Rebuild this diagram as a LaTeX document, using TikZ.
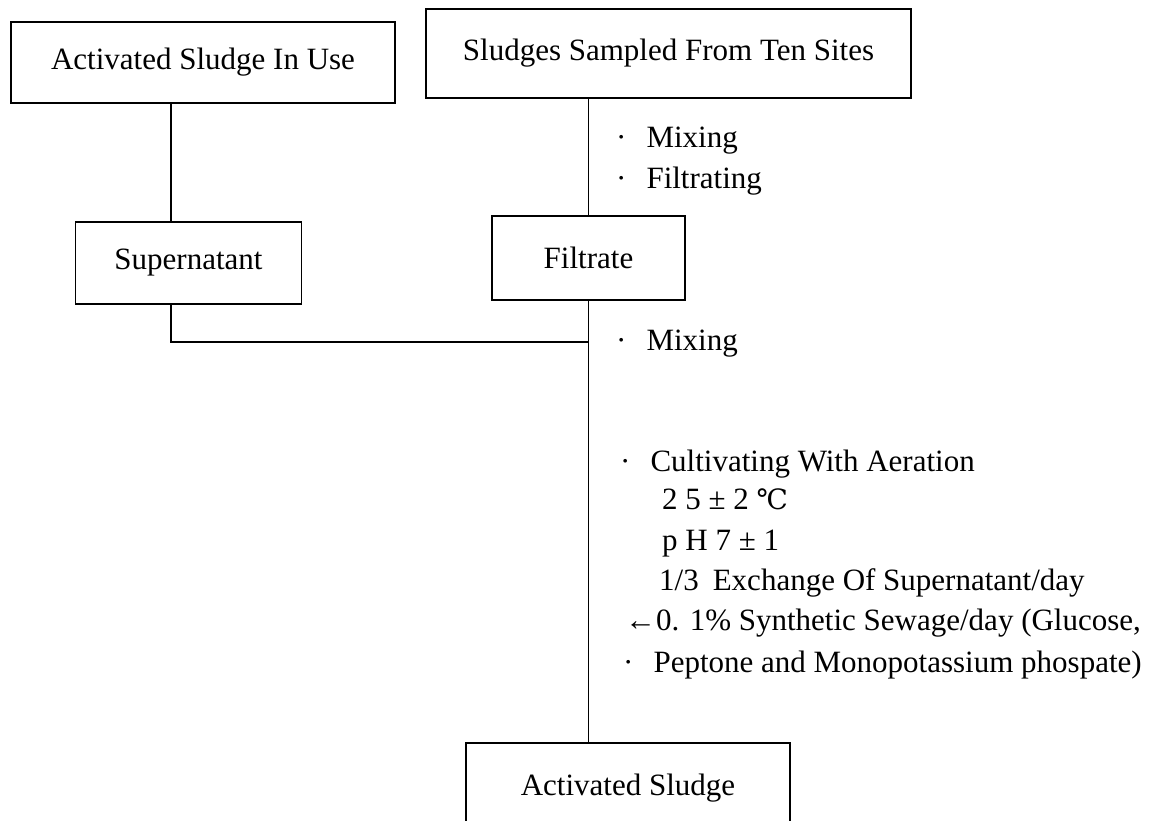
\documentclass[tikz,border=0pt]{standalone}
\usepackage{fontspec}
\setmainfont{Liberation Serif}
\newfontfamily\symfont{DejaVu Serif}
\begin{document}
\begin{tikzpicture}[x=1pt,y=-1pt,
  box/.style={draw, line width=1.5pt, inner sep=0pt, font=\fontsize{31}{37}\selectfont},
  lbl/.style={anchor=base west, inner sep=0pt, font=\fontsize{31}{37}\selectfont},
  conn/.style={line width=1.5pt}]
\useasboundingbox (0,0) rectangle (1154,820);
\clip (0,0) rectangle (1154,820);
% boxes
\node[box, minimum width=384pt, minimum height=81pt] (A) at (203,62.5) {Activated Sludge In Use};
\node[box, minimum width=485pt, minimum height=89pt] (B) at (668.5,53.5) {Sludges Sampled From Ten Sites};
\node[box, minimum width=226pt, minimum height=82pt] (S) at (188.5,263) {Supernatant};
\node[box, minimum width=193pt, minimum height=84pt] (F) at (588.5,258) {Filtrate};
\node[box, minimum width=324pt, minimum height=90pt] (AS) at (628,788) {Activated Sludge};
% connectors
\coordinate (ax) at (171,0);
\coordinate (jy) at (0,342);
\draw[conn] (A.south -| ax) -- (S.north -| ax);
\draw[conn] (B.south -| F.north) -- (F.north);
\draw[conn] (S.south -| ax) |- (F.south |- jy);
\draw[conn] (F.south) -- (AS.north -| F.south);
% labels
\node[lbl] (m1) at (616,147) {·\hspace{20pt}Mixing};
\node[lbl] (f1) at (616,188) {·\hspace{20pt}Filtrating};
\node[lbl] (m2) at (616,350) {·\hspace{20pt}Mixing};
\node[lbl] (c1) at (620,471) {·\hspace{20pt}Cultivating With Aeration};
\node[lbl] (t1) at (662,509) {2 5 ± 2 {\symfont\fontsize{28}{34}\selectfont ℃}};
\node[lbl] (p1) at (662,550) {p H 7 ± 1};
\node[lbl] (e1) at (659,590) {1/3\hspace{14pt}Exchange Of Supernatant/day};
\node[lbl] (s1) at (625,630) {←0. 1\% Synthetic Sewage/day (Glucose,};
\node[lbl] (s2) at (623,672) {·\hspace{20pt}Peptone and Monopotassium phospate)};
\end{tikzpicture}
\end{document}
